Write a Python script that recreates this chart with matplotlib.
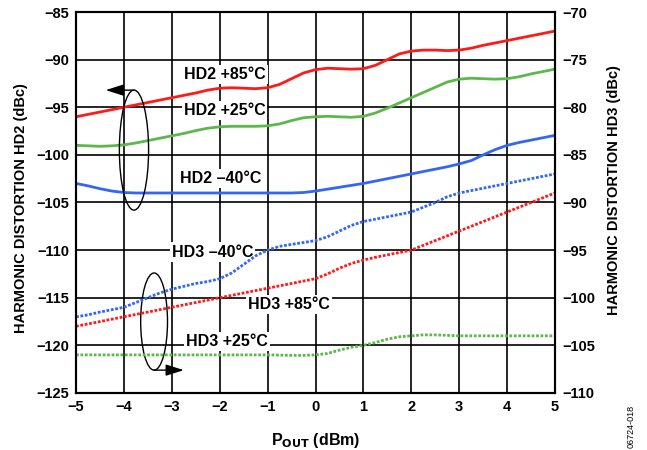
import numpy as np
import matplotlib.pyplot as plt
from matplotlib.patches import Ellipse

plt.rcParams['font.family'] = ['Liberation Sans', 'DejaVu Sans']
plt.rcParams['font.weight'] = 'bold'
plt.rcParams['axes.unicode_minus'] = True

# P_OUT (dBm), read every 0.25 dBm
pout = np.linspace(-5, 5, 41)

# HD2 (dBc), left axis
hd2_85 = [-96, -95.75, -95.5, -95.25, -95, -94.75, -94.5, -94.25, -94, -93.75,
          -93.5, -93.2, -93.0, -92.95, -93.0, -93.05, -92.95, -92.6, -92.0, -91.4,
          -91.05, -90.9, -90.95, -91.0, -90.95, -90.6, -90.0, -89.4, -89.1, -89.0,
          -89.0, -89.05, -89.0, -88.8, -88.5, -88.25, -88.0, -87.75, -87.5, -87.25,
          -87.0]
hd2_25 = [-99, -99.05, -99.1, -99.05, -98.95, -98.75, -98.5, -98.25, -98, -97.75,
          -97.45, -97.2, -97.05, -97.0, -97.0, -97.0, -96.95, -96.75, -96.4, -96.1,
          -96.0, -95.95, -96.0, -96.05, -95.95, -95.6, -95.1, -94.55, -94.0, -93.45,
          -92.9, -92.35, -92.05, -91.95, -92.0, -92.05, -92.0, -91.8, -91.5, -91.25,
          -91.0]
hd2_m40 = [-103, -103.25, -103.55, -103.8, -103.95, -104.0, -104.0, -104.0, -104.0, -104.0,
           -104.0, -104.0, -104.0, -104.0, -104.0, -104.0, -104.0, -104.0, -104.0, -103.95,
           -103.8, -103.6, -103.4, -103.2, -103.0, -102.75, -102.5, -102.25, -102.0, -101.75,
           -101.5, -101.25, -100.95, -100.6, -100.0, -99.45, -99.0, -98.7, -98.45, -98.2,
           -97.95]

# HD3 (dBc), right axis
hd3_m40 = [-102, -101.8, -101.5, -101.25, -101, -100.5, -100, -99.5, -99.1, -98.8,
           -98.5, -98.3, -98.0, -97.4, -96.5, -95.6, -95.0, -94.6, -94.4, -94.2,
           -94.0, -93.6, -93.0, -92.4, -92.0, -91.75, -91.5, -91.25, -91.0, -90.5,
           -90.0, -89.4, -89.0, -88.75, -88.5, -88.25, -88.0, -87.75, -87.5, -87.25,
           -87.0]
hd3_85 = [-103, -102.75, -102.5, -102.25, -102, -101.75, -101.5, -101.25, -101, -100.75,
          -100.5, -100.25, -100, -99.75, -99.5, -99.25, -99, -98.75, -98.5, -98.25,
          -98, -97.5, -96.9, -96.4, -96.05, -95.75, -95.5, -95.25, -95.0, -94.5,
          -94.0, -93.5, -93.0, -92.5, -92.0, -91.5, -91.0, -90.5, -90.0, -89.5,
          -89.0]
hd3_25 = [-106, -106, -106, -106, -106, -106, -106, -106, -106, -106,
          -106, -106, -106, -106, -106, -106, -106, -106.02, -106.05, -106.05,
          -106.0, -105.85, -105.5, -105.2, -105.0, -104.7, -104.35, -104.1, -104.0, -103.9,
          -103.9, -103.95, -104.0, -104.0, -104.0, -104.0, -104.0, -104.0, -104.0, -104.0,
          -104.0]

red = '#ff1a1a'
green = '#5cb84a'
blue = '#3366f5'

fig = plt.figure(figsize=(6.47, 4.5), dpi=100)
ax = fig.add_axes([0.1175, 0.1267, 0.7403, 0.8466])
ax2 = ax.twinx()

ax.set_xlim(-5, 5)
ax.set_ylim(-125, -85)
ax2.set_ylim(-110, -70)
ax.set_xticks(np.arange(-5, 6, 1))
ax.set_yticks(np.arange(-125, -84, 5))
ax2.set_yticks(np.arange(-110, -69, 5))
ax.grid(True, color='black', linewidth=1.2)
ax.set_axisbelow(True)

for a in (ax, ax2):
    for s in a.spines.values():
        s.set_linewidth(1.5)
    a.tick_params(length=0, labelsize=10.5, pad=5)

ax.plot(pout, hd2_85, color=red, lw=2)
ax.plot(pout, hd2_25, color=green, lw=2)
ax.plot(pout, hd2_m40, color=blue, lw=2)
dot = (0, (1, 0.6))
ax2.plot(pout, hd3_m40, color=blue, lw=2, ls=dot)
ax2.plot(pout, hd3_85, color=red, lw=2, ls=dot)
ax2.plot(pout, hd3_25, color=green, lw=2, ls=dot)

box = dict(facecolor='white', edgecolor='none', pad=1.5)
labels = [('HD2 +85°C', -1.89, -91.6), ('HD2 +25°C', -1.9, -95.3),
          ('HD2 \u201340°C', -1.97, -102.5), ('HD3 \u201340°C', -2.15, -110.2),
          ('HD3 +85°C', -0.55, -115.7), ('HD3 +25°C', -1.84, -119.6)]
for txt, x, y in labels:
    ax.text(x, y, txt, ha='center', va='center', fontsize=11.5,
            fontweight='bold', bbox=box, zorder=5)

# ellipses with arrows pointing to the axis each group belongs to
ax.add_patch(Ellipse((-3.79, -99.5), 0.61, 12.6, fill=False, lw=1.0,
                     color='black', zorder=6))
ax.annotate('', xy=(-4.38, -93.2), xytext=(-3.79, -93.2),
            arrowprops=dict(arrowstyle='-|>,head_length=1.1,head_width=0.35',
                            color='black', lw=1.0, shrinkA=0, shrinkB=0), zorder=6)
ax.add_patch(Ellipse((-3.37, -117.5), 0.56, 10.2, fill=False, lw=1.0,
                     color='black', zorder=6))
ax.annotate('', xy=(-2.75, -122.6), xytext=(-3.37, -122.6),
            arrowprops=dict(arrowstyle='-|>,head_length=1.1,head_width=0.35',
                            color='black', lw=1.0, shrinkA=0, shrinkB=0), zorder=6)

ax.set_xlabel(r'P$_{\mathbf{OUT}}$ (dBm)', fontsize=11.5, fontweight='bold', labelpad=12)
ax.set_ylabel('HARMONIC DISTORTION HD2 (dBc)', fontsize=10.5, fontweight='bold')
ax2.set_ylabel('HARMONIC DISTORTION HD3 (dBc)', fontsize=10.5, fontweight='bold')
ax.yaxis.set_label_coords(-0.100, 0.486)
ax2.yaxis.set_label_coords(1.109, 0.533)

fig.text(0.976, 0.004, '06724-018', rotation=90, fontsize=6.5, fontweight='normal',
         ha='center', va='bottom')

fig.savefig('out.png', dpi=100)
